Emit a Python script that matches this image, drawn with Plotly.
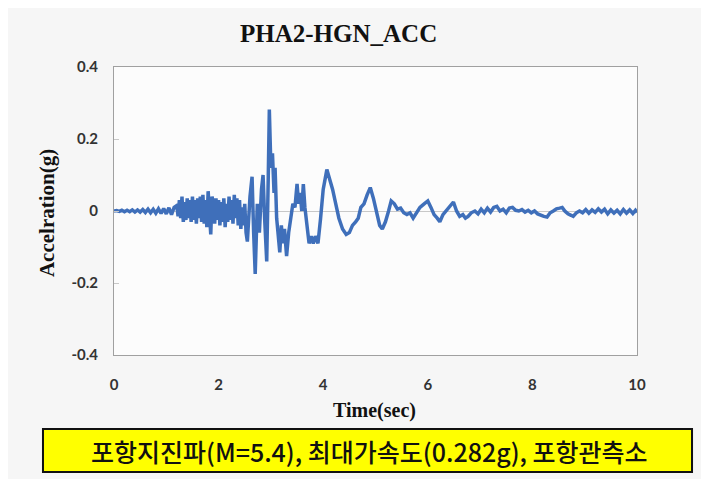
import plotly.graph_objects as go

title_text = "PHA2-HGN_ACC"
x_title = "Time(sec)"
y_title = "Accelration(g)"
caption = "포항지진파(M=5.4), 최대가속도(0.282g), 포항관측소"

y_tickvals = [0.4, 0.2, 0, -0.2, -0.4]
y_ticktext = ["0.4", "0.2", "0", "-0.2", "-0.4"]
x_tickvals = [0, 2, 4, 6, 8, 10]

time_sec = [
    0.00, 0.05, 0.10, 0.15, 0.20, 0.25, 0.30, 0.35, 0.40, 0.45, 0.50, 0.55,
    0.60, 0.65, 0.70, 0.75, 0.80, 0.85, 0.90, 0.95, 1.00, 1.05, 1.10, 1.15,
    1.200, 1.225, 1.250, 1.275, 1.300, 1.325, 1.350, 1.375, 1.400, 1.425,
    1.450, 1.475, 1.500, 1.525, 1.550, 1.575, 1.600, 1.625, 1.650, 1.675,
    1.700, 1.725, 1.750, 1.775, 1.800, 1.825, 1.850, 1.875, 1.900, 1.925,
    1.950, 1.975, 2.000, 2.025, 2.050, 2.075, 2.100, 2.125, 2.150, 2.175,
    2.200, 2.225, 2.250, 2.275, 2.300, 2.325, 2.350, 2.375, 2.400, 2.425,
    2.450, 2.475, 2.500, 2.525, 2.550,
    2.60, 2.64, 2.67, 2.70, 2.74, 2.78, 2.82, 2.85,
    2.88, 2.92, 2.95, 2.97, 3.00, 3.03, 3.06, 3.08, 3.11, 3.14, 3.17, 3.20,
    3.23, 3.26, 3.30, 3.34, 3.38, 3.42, 3.46, 3.50, 3.53, 3.56, 3.59, 3.62,
    3.65, 3.69, 3.73, 3.77, 3.81, 3.85, 3.90, 3.95, 4.00, 4.07, 4.12, 4.18,
    4.24, 4.30, 4.37, 4.44, 4.50, 4.56, 4.62, 4.67, 4.72, 4.78, 4.84, 4.90,
    4.96, 5.02, 5.08, 5.13, 5.19, 5.25, 5.30, 5.36, 5.42, 5.48, 5.54, 5.60,
    5.66, 5.72, 5.78, 5.85, 5.93, 6.00, 6.06, 6.12, 6.18, 6.23, 6.29, 6.35,
    6.42, 6.49, 6.55, 6.61, 6.67, 6.72, 6.77, 6.83, 6.90, 6.96, 7.02, 7.08,
    7.14, 7.20, 7.26, 7.32, 7.38, 7.44, 7.50, 7.56, 7.62, 7.68, 7.74, 7.80,
    7.86, 7.92, 7.98, 8.04, 8.10, 8.16, 8.22, 8.28, 8.34, 8.40, 8.46, 8.52,
    8.57, 8.62, 8.68, 8.74, 8.78, 8.84, 8.90, 8.96, 9.02, 9.08, 9.14, 9.20,
    9.26, 9.32, 9.38, 9.44, 9.50, 9.56, 9.62, 9.68, 9.74, 9.80, 9.86, 9.92,
    9.97, 10.00,
]

accel_g = [
    0.000, 0.001, -0.001, 0.002, -0.002, 0.002, -0.002, 0.003, -0.003, 0.003, -0.003, 0.004,
    -0.004, 0.005, -0.005, 0.005, -0.006, 0.006, -0.007, 0.007, -0.008, 0.009, -0.010, 0.010,
    0.015, -0.015, 0.030, -0.020, 0.040, -0.030, 0.025, -0.025, 0.035, -0.020,
    0.030, -0.030, 0.040, -0.025, 0.030, -0.035, 0.035, -0.020, 0.040, -0.030,
    0.045, -0.035, 0.030, -0.045, 0.055, -0.030, -0.065, 0.040, 0.020, -0.035,
    0.035, -0.025, 0.030, -0.040, 0.025, -0.030, 0.035, -0.045, 0.020, -0.030,
    0.040, -0.025, 0.030, -0.035, 0.045, -0.020, 0.035, -0.040, 0.030, -0.050,
    0.010, -0.040, 0.020, -0.060, -0.085,
    0.040, 0.095, -0.060, -0.175, 0.020, -0.060, 0.060, 0.100,
    -0.020, -0.140, 0.100, 0.282, 0.120, 0.160, 0.050, 0.120, -0.020, -0.080, -0.115, -0.040,
    -0.090, -0.050, -0.125, -0.060, -0.020, 0.020, 0.010, 0.075, 0.020, 0.050, 0.000, 0.075,
    0.010, -0.050, -0.090, -0.070, -0.090, -0.070, -0.090, -0.020, 0.060, 0.115, 0.090, 0.060,
    0.020, -0.020, -0.050, -0.065, -0.060, -0.040, -0.030, -0.020, 0.010, 0.020, 0.045, 0.065,
    0.035, 0.000, -0.040, -0.050, -0.030, 0.000, 0.028, 0.020, 0.005, 0.008, -0.005, -0.010,
    -0.005, -0.020, -0.005, 0.010, 0.020, 0.028, 0.010, -0.010, -0.020, -0.030, -0.010, 0.000,
    0.015, 0.025, 0.000, -0.015, -0.010, -0.020, -0.015, -0.005, 0.000, -0.008, 0.005, -0.005,
    0.008, -0.003, 0.010, 0.013, 0.000, 0.005, -0.005, 0.008, 0.010, 0.002, 0.000, 0.004,
    -0.003, 0.002, -0.005, 0.000, -0.008, -0.012, -0.015, -0.017, -0.005, 0.000, 0.006, 0.008,
    0.010, 0.000, -0.008, -0.012, -0.015, -0.005, 0.000, -0.005, 0.004, -0.006, 0.003, -0.004,
    0.006, -0.003, 0.005, -0.008, 0.003, -0.006, 0.002, -0.008, 0.004, -0.006, 0.003, -0.007,
    0.002, -0.004,
]

fig = go.Figure()
fig.add_trace(go.Scatter(
    x=time_sec, y=accel_g, mode="lines",
    line=dict(color="#3f6fba", width=3.5),
    showlegend=False, hoverinfo="skip",
))

serif = "Liberation Serif, Times New Roman, serif"
sans = "Lato, Liberation Sans, sans-serif"

fig.update_layout(
    width=709, height=479,
    margin=dict(l=106, r=80, t=59, b=132, pad=0),
    paper_bgcolor="#f6f6f6",
    plot_bgcolor="#fcfcfc",
    xaxis=dict(
        range=[0, 10], tickvals=x_tickvals, showgrid=False, zeroline=False,
        showline=True, mirror=True, linecolor="#a0a0a0", linewidth=1,
        ticks="", ticklabelstandoff=16,
        tickfont=dict(family=sans, size=15, color="#333333", weight="bold"),
    ),
    yaxis=dict(
        range=[-0.4, 0.4], tickvals=y_tickvals, ticktext=y_ticktext,
        showgrid=False, zeroline=True, zerolinecolor="#c8c8c8", zerolinewidth=1,
        showline=True, mirror=True, linecolor="#a0a0a0", linewidth=1,
        ticks="inside", ticklen=5, tickcolor="#c8c8c8", ticklabelstandoff=12,
        tickfont=dict(family=sans, size=15, color="#333333", weight="bold"),
    ),
    annotations=[
        dict(text=title_text, xref="paper", yref="paper", x=0.4283, y=1.118,
             xanchor="center", yanchor="middle", showarrow=False,
             font=dict(family=serif, size=25, color="#111111", weight="bold")),
        dict(text=x_title, xref="paper", yref="paper", x=0.499, y=-0.191,
             xanchor="center", yanchor="middle", showarrow=False,
             font=dict(family=serif, size=20, color="#111111", weight="bold")),
        dict(text=y_title, xref="paper", yref="paper", x=-0.128, y=0.493,
             xanchor="center", yanchor="middle", showarrow=False, textangle=-90,
             font=dict(family=serif, size=21, color="#111111", weight="bold")),
        dict(text=caption, xref="paper", yref="paper", x=0.4876, y=-0.333,
             xanchor="center", yanchor="middle", showarrow=False,
             font=dict(family="Noto Sans CJK KR, sans-serif", size=25, color="#111111", weight=500)),
    ],
    shapes=[
        dict(type="rect", xref="paper", yref="paper",
             x0=-0.1358, x1=1.1052, y0=-0.40625, y1=-0.257,
             fillcolor="#ffff00", line=dict(color="#111111", width=2), layer="below"),
    ],
)

fig.write_html("out.html")
